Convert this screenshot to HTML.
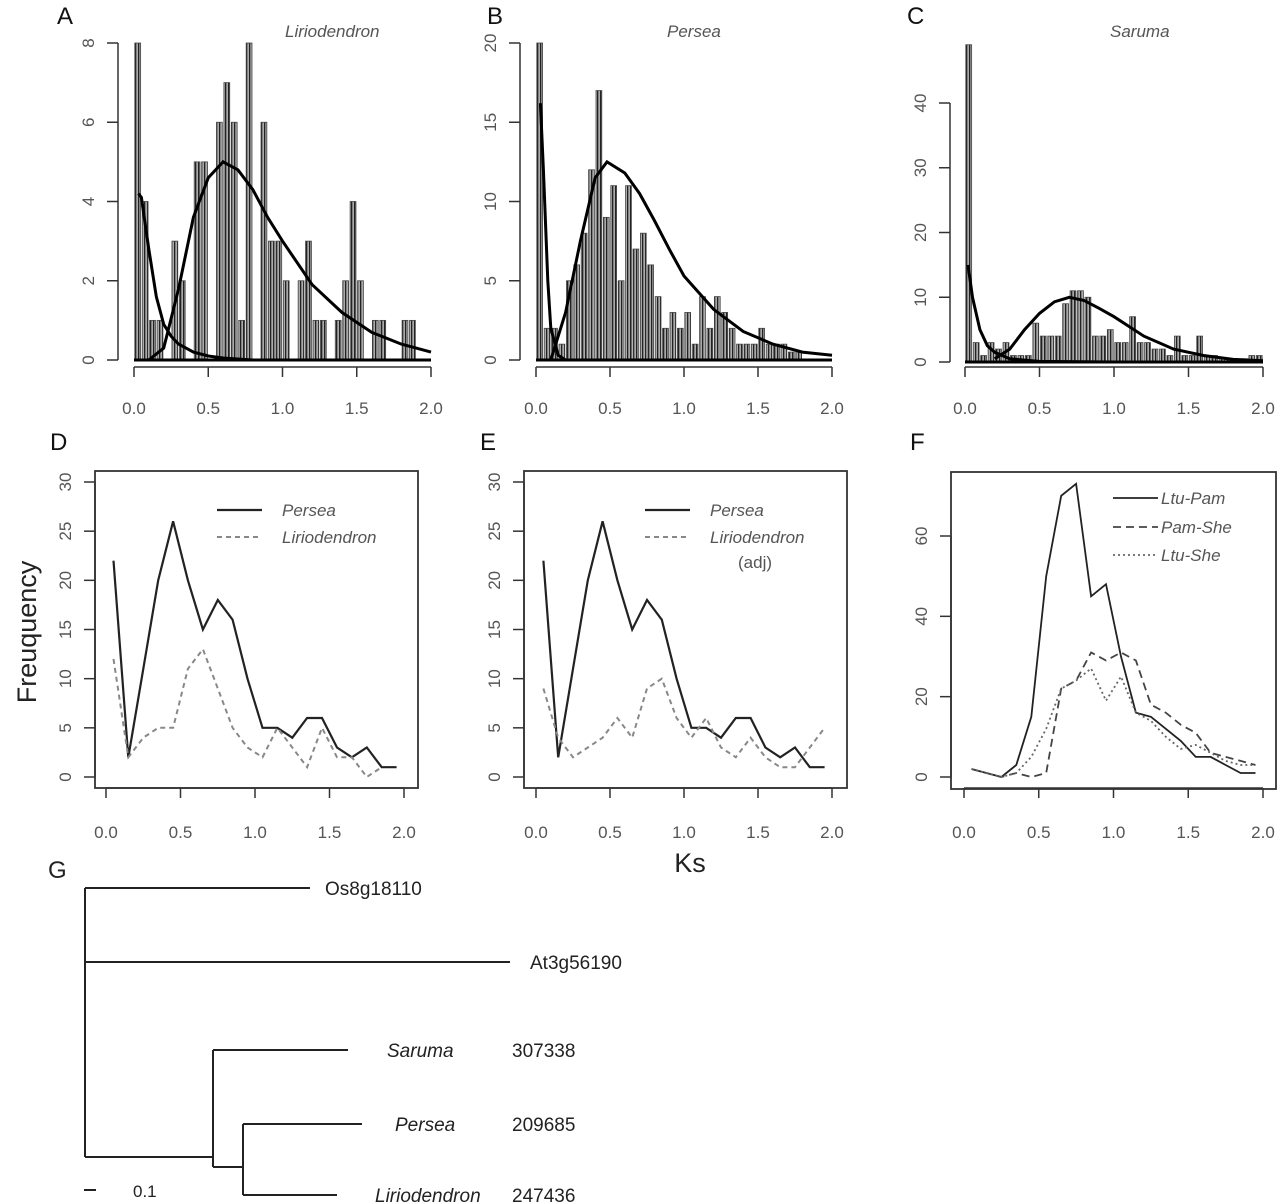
<!DOCTYPE html>
<html><head><meta charset="utf-8"><style>
html,body{margin:0;padding:0;background:#fff}
svg{display:block}
text{font-family:"Liberation Sans",sans-serif}
.tl{font-size:17px;fill:#555}
.pl{font-size:24px;fill:#111}
.it{font-style:italic}
</style></head><body>
<svg id="fig" width="1280" height="1204" viewBox="0 0 1280 1204" xmlns="http://www.w3.org/2000/svg">
<defs>
<pattern id="hatch" width="3" height="4" patternUnits="userSpaceOnUse">
<rect width="3" height="4" fill="#aaa"/><rect width="1.3" height="4" fill="#222"/>
</pattern>
</defs>
<g id="root"></g>
</svg>
<script>
// ---- Histogram data (bins of 0.05 from 0 to 2.0) ----
const histA = [8,4,1,1,0,3,2,0,5,5,0,6,7,6,1,8,0,6,3,3,2,0,2,3,1,1,0,1,2,4,2,0,1,1,0,0,1,1,0,0];
const histB = [20,2,2,1,5,6,8,12,17,9,11,5,11,7,8,6,4,2,3,2,3,1,4,2,4,3,2,1,1,1,2,1,1,1,0.5,0.5,0,0,0,0];
const histC = [49,3,1,3,2,3,1,1,1,6,4,4,4,9,11,11,10,4,4,5,3,3,7,3,3,2,2,1,4,1,1,4,1,1,0.5,0.5,0.5,0.5,1,1];
// ---- Fitted curves ----
const curveA1x = [0.03,0.05,0.1,0.15,0.2,0.25,0.3,0.4,0.5,0.6,0.8,1.0,2.0];
const curveA1y = [4.2,4.1,2.8,1.6,0.9,0.6,0.4,0.2,0.1,0.05,0,0,0];
const curveA2x = [0.1,0.2,0.3,0.4,0.5,0.6,0.7,0.8,0.9,1.0,1.2,1.4,1.6,1.8,2.0];
const curveA2y = [0,0.3,1.8,3.6,4.6,5.0,4.8,4.3,3.6,3.0,1.9,1.2,0.7,0.4,0.2];
const curveB1x = [0.03,0.05,0.08,0.1,0.15,0.2,2.0];
const curveB1y = [16.2,12,5,2,0.3,0,0];
const curveB2x = [0.1,0.2,0.3,0.4,0.48,0.6,0.7,0.8,0.9,1.0,1.2,1.4,1.6,1.8,2.0];
const curveB2y = [0,3,7.5,11.5,12.5,11.8,10.5,8.8,7,5.3,3.2,1.8,1.0,0.5,0.3];
const curveC1x = [0.02,0.05,0.1,0.15,0.2,0.3,0.5,1.0,2.0];
const curveC1y = [15,10,5,2.5,1.5,0.5,0.1,0,0];
const curveC2x = [0.2,0.3,0.4,0.5,0.6,0.7,0.8,0.9,1.0,1.1,1.2,1.4,1.6,1.8,2.0];
const curveC2y = [0.5,2,5,7.5,9.3,10,9.5,8.3,7,5.5,4,2,1,0.4,0.2];
// ---- Line panels (x = 0.05 .. 1.95) ----
const ksMid = [0.05,0.15,0.25,0.35,0.45,0.55,0.65,0.75,0.85,0.95,1.05,1.15,1.25,1.35,1.45,1.55,1.65,1.75,1.85,1.95];
const persea = [22,2,11,20,26,20,15,18,16,10,5,5,4,6,6,3,2,3,1,1];
const lirioD = [12,2,4,5,5,11,13,9,5,3,2,5,3,1,5,2,2,0,1];
const lirioAdj = [9,4,2,3,4,6,4,9,10,6,4,6,3,2,4,2,1,1,3,5];
const ltuPam = [2,1,0,3,15,50,70,73,45,48,30,16,15,12,9,5,5,3,1,1];
const pamShe = [2,1,0,1,0,1,22,24,31,29,31,29,18,16,13,11,6,5,4,3];
const ltuShe = [2,1,0,1,5,12,22,24,27,19,25,16,14,10,7,8,6,4,3,3];
const xTicks = ["0.0","0.5","1.0","1.5","2.0"];
const yTicksA = ["0","2","4","6","8"];
const yTicksB = ["0","5","10","15","20"];
const yTicksC = ["0","10","20","30","40"];
const yTicksDE = ["0","5","10","15","20","25","30"];
const yTicksF = ["0","20","40","60"];

const NS = "http://www.w3.org/2000/svg";
const root = document.getElementById("root");
function mk(tag, attrs, parent){const e=document.createElementNS(NS,tag);for(const k in attrs)e.setAttribute(k,attrs[k]);(parent||root).appendChild(e);return e;}
function txt(s, x, y, cls, parent, extra){const t=mk("text",Object.assign({x:x,y:y,class:cls},extra||{}),parent);t.textContent=s;return t;}

function axes(g, P, yTicks, yMaxTick, boxed){
  const sx=v=>P.x0+(P.x1-P.x0)*v/2, sy=v=>P.y0-(P.y0-P.yTop)*v/P.ymax;
  const xa=mk("line",{x1:sx(0),x2:sx(2),y1:P.xaY,y2:P.xaY,stroke:"#333","stroke-width":1.5},g);
  
  
  xTicks.forEach((t,i)=>{const v=i*0.5;
    mk("line",{x1:sx(v),x2:sx(v),y1:P.xaY,y2:P.xaY+10,stroke:"#333","stroke-width":1.5},g);
    const l=txt(t,sx(v),P.xlY,"tl",g,{"text-anchor":"middle"});
    
    });
  const ya=mk("line",{x1:P.yaX,x2:P.yaX,y1:sy(0),y2:sy(yMaxTick),stroke:"#333","stroke-width":1.5},g);
  
  
  yTicks.forEach(t=>{const v=+t;
    mk("line",{x1:P.yaX-11,x2:P.yaX,y1:sy(v),y2:sy(v),stroke:"#333","stroke-width":1.5},g);
    const l=txt(t,0,0,"tl",g,{"text-anchor":"middle",transform:`translate(${P.yaX-24},${sy(v)}) rotate(-90)`});
    
    });
  if(boxed){const b=mk("rect",{x:P.bx0,y:P.by0,width:P.bx1-P.bx0,height:P.by1-P.by0,fill:"none",stroke:"#333","stroke-width":1.8},g);
    
    }
  return {sx,sy};
}
function curve(g,xs,ys,S,attrs,name){
  const d=xs.map((x,i)=>(i?"L":"M")+S.sx(x).toFixed(1)+","+S.sy(ys[i]).toFixed(1)).join(" ");
  const p=mk("path",Object.assign({d:d,fill:"none"},attrs),g);
  
  
  return p;
}
function histPanel(name,P,hist,yTicks,yMaxTick,c1x,c1y,c2x,c2y,title,titleX,label,labelX){
  const g=mk("g",{});
  
  
  const S=axes(g,P,yTicks,yMaxTick,false);
  hist.forEach((v,i)=>{if(v<=0)return;const x0=S.sx(i*0.05),x1=S.sx((i+1)*0.05);
    const r=mk("rect",{x:x0+0.8,y:S.sy(v),width:(x1-x0)-1.6,height:S.sy(0)-S.sy(v),fill:"url(#hatch)",stroke:"#444","stroke-width":0.8},g);
    
    });
  mk("line",{x1:S.sx(0),x2:S.sx(2),y1:S.sy(0),y2:S.sy(0),stroke:"#000","stroke-width":3},g);
  curve(g,c1x,c1y,S,{stroke:"#000","stroke-width":3},"fit-curve-young");
  curve(g,c2x,c2y,S,{stroke:"#000","stroke-width":3},"fit-curve-ancient");
  const t=txt(title,titleX,P.titleY,"tl it",g,{"font-size":"20px",fill:"#333"});
  
  
  const l=txt(label,labelX,24,"pl",g);
  
  
}
histPanel("panel-a",{x0:134,x1:431,y0:360,yTop:43,ymax:8,xaY:367,xlY:414,yaX:118,titleY:37},histA,yTicksA,8,curveA1x,curveA1y,curveA2x,curveA2y,"Liriodendron",285,"A",57);
histPanel("panel-b",{x0:536,x1:832,y0:360,yTop:43,ymax:20,xaY:367,xlY:414,yaX:520,titleY:37},histB,yTicksB,20,curveB1x,curveB1y,curveB2x,curveB2y,"Persea",667,"B",487);
histPanel("panel-c",{x0:965,x1:1263,y0:362,yTop:103,ymax:40,xaY:367,xlY:414,yaX:950,titleY:37},histC,yTicksC,40,curveC1x,curveC1y,curveC2x,curveC2y,"Saruma",1110,"C",907);

function linePanel(name,P,yTicks,yMaxTick,series,legend,label,labelX){
  const g=mk("g",{});
  
  
  const S=axes(g,P,yTicks,yMaxTick,true);
  series.forEach(s=>curve(g,ksMid.slice(0,s.v.length),s.v,S,s.a,s.n));
  legend.forEach(L=>{
    const ln=mk("line",Object.assign({x1:L.x1,x2:L.x2,y1:L.y,y2:L.y},L.a),g);
    
    
    const t=txt(L.t,L.tx,L.y+6,"tl"+(L.it?" it":""),g,{"font-size":L.fs||"18px",fill:"#444"});
    
    });
  const l=txt(label,labelX,450,"pl",g);
  
  
}
const solid={stroke:"#222","stroke-width":2.2};
const dashG={stroke:"#888","stroke-width":2,"stroke-dasharray":"5,4"};
linePanel("panel-d",{x0:106,x1:404,y0:777,yTop:482,ymax:30,xaY:788,xlY:838,yaX:95,bx0:95,bx1:418,by0:471,by1:788},yTicksDE,30,
 [{v:persea,a:solid,n:"line-persea"},{v:lirioD,a:dashG,n:"line-liriodendron"}],
 [{x1:217,x2:262,y:510,a:solid,t:"Persea",tx:282,it:1},{x1:217,x2:262,y:537,a:dashG,t:"Liriodendron",tx:282,it:1}],"D",50);
linePanel("panel-e",{x0:536,x1:832,y0:777,yTop:482,ymax:30,xaY:788,xlY:838,yaX:524,bx0:524,bx1:847,by0:471,by1:788},yTicksDE,30,
 [{v:persea,a:solid,n:"line-persea"},{v:lirioAdj,a:dashG,n:"line-liriodendron-adj"}],
 [{x1:645,x2:690,y:510,a:solid,t:"Persea",tx:710,it:1},{x1:645,x2:690,y:537,a:dashG,t:"Liriodendron",tx:710,it:1},{x1:0,x2:0,y:562,a:{stroke:"none"},t:"(adj)",tx:738}],"E",480);
const sF={stroke:"#222","stroke-width":1.8}, dF={stroke:"#444","stroke-width":1.8,"stroke-dasharray":"8,5"}, oF={stroke:"#666","stroke-width":1.8,"stroke-dasharray":"2,3"};
linePanel("panel-f",{x0:964,x1:1263,y0:777,yTop:536,ymax:60,xaY:788,xlY:838,yaX:951,bx0:951,bx1:1276,by0:472,by1:789},yTicksF,60,
 [{v:ltuPam,a:sF,n:"line-ltu-pam"},{v:pamShe,a:dF,n:"line-pam-she"},{v:ltuShe,a:oF,n:"line-ltu-she"}],
 [{x1:1113,x2:1158,y:498,a:sF,t:"Ltu-Pam",tx:1161,it:1,fs:"16px"},{x1:1113,x2:1158,y:527,a:dF,t:"Pam-She",tx:1161,it:1,fs:"16px"},{x1:1113,x2:1158,y:555,a:oF,t:"Ltu-She",tx:1161,it:1,fs:"16px"}],"F",910);

const yl=txt("Freuquency",0,0,"",root,{"font-size":"27px",fill:"#222","text-anchor":"middle",transform:"translate(36,632) rotate(-90)"});


const xl=txt("Ks",690,872,"",root,{"font-size":"27px",fill:"#222","text-anchor":"middle"});


</script>
<script>
// Phylogenetic tree (panel G)
(function(){
const NS="http://www.w3.org/2000/svg", svg=document.getElementById("fig");
const g=document.createElementNS(NS,"g");


svg.appendChild(g);
function L(x1,y1,x2,y2){const e=document.createElementNS(NS,"line");e.setAttribute("x1",x1);e.setAttribute("y1",y1);e.setAttribute("x2",x2);e.setAttribute("y2",y2);e.setAttribute("stroke","#222");e.setAttribute("stroke-width","2");g.appendChild(e);}
function T(s,x,y,it,fs){const e=document.createElementNS(NS,"text");e.setAttribute("x",x);e.setAttribute("y",y);e.setAttribute("font-size",fs||"19px");e.setAttribute("fill","#222");if(it)e.setAttribute("font-style","italic");e.textContent=s;g.appendChild(e);}
L(85,888,85,1157);L(85,888,310,888);L(85,962,510,962);L(85,1157,213,1157);
L(213,1050,213,1167);L(213,1050,348,1050);L(213,1167,243,1167);
L(243,1124,243,1195);L(243,1124,362,1124);L(243,1195,337,1195);
L(84,1190,96,1190);
T("Os8g18110",325,895);T("At3g56190",530,969);
T("Saruma",387,1057,1);T("307338",512,1057);
T("Persea",395,1131,1);T("209685",512,1131);
T("Liriodendron",375,1202,1);T("247436",512,1202);
T("0.1",133,1197,0,"17px");T("G",48,878,0,"24px");
})();
</script>
</body></html>
